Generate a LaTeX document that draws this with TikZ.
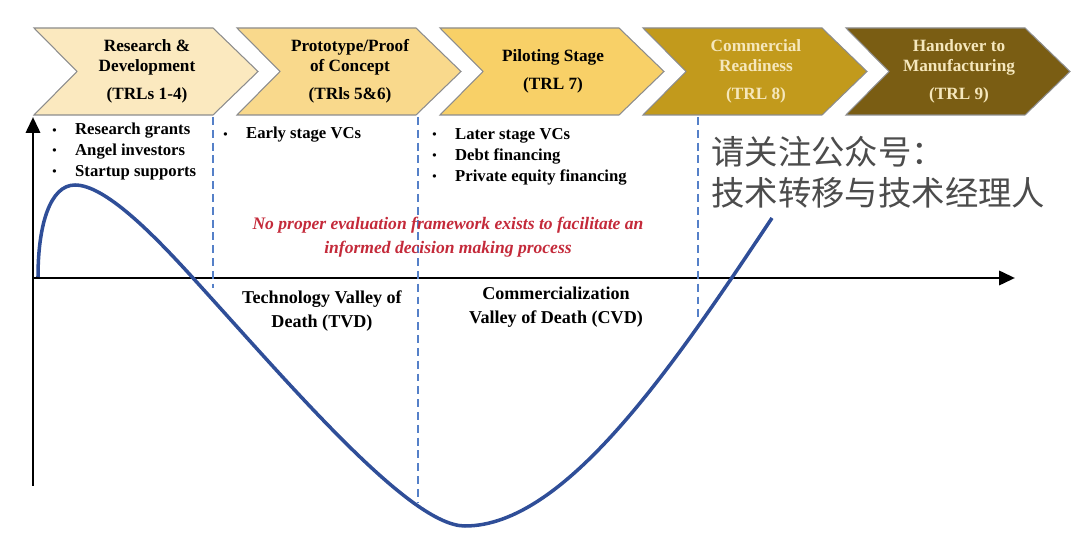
\documentclass[tikz,border=0pt]{standalone}
\usepackage{fontspec}
\setmainfont{Liberation Serif}
\newfontfamily\cjk{Noto Sans CJK SC}
\usetikzlibrary{arrows.meta}
\definecolor{stA}{HTML}{FBE9BF}
\definecolor{stB}{HTML}{F9D98C}
\definecolor{stC}{HTML}{F8D067}
\definecolor{stD}{HTML}{C29A1C}
\definecolor{stE}{HTML}{7A5D13}
\definecolor{paleTxt}{HTML}{F5E7BC}
\definecolor{curveBlue}{HTML}{2F4E98}
\definecolor{dashBlue}{HTML}{5580C8}
\definecolor{noteRed}{HTML}{C42A3A}
\newcommand{\bul}{\makebox[13pt][l]{\raisebox{0.5pt}{\scriptsize\textbullet}}}
\begin{document}
\begin{tikzpicture}[x=0.02cm,y=-0.02cm,
  stage/.style={draw=black!45,line width=0.6pt},
  stagetext/.style={font=\fontsize{9.8}{11.3}\selectfont\bfseries,align=center,inner sep=0pt},
  fundlist/.style={font=\fontsize{9.5}{11.9}\selectfont\bfseries,align=left,anchor=north west,inner sep=0pt},
  vline/.style={dashBlue,line width=0.9pt,dash pattern=on 4.5pt off 2.8pt},
  axisline/.style={line width=1.7pt,-{Triangle[length=9pt,width=8pt]}},
  valleycurve/.style={curveBlue,line width=2pt},
  vlabel/.style={font=\fontsize{10.3}{13.6}\selectfont\bfseries,align=center,inner sep=0pt},
  note/.style={font=\fontsize{10}{13.6}\selectfont\bfseries\itshape,text=noteRed,align=center,inner sep=0pt}]
\useasboundingbox (0,0) rectangle (1080,533);
% stages
\foreach \i/\fc/\tc/\txt in {1/stA/black/{Research \&\\Development\\[4.5pt](TRLs 1-4)},
    2/stB/black/{Prototype/Proof\\of Concept\\[4.5pt](TRls 5\&6)},
    3/stC/black/{Piloting Stage\\[4.5pt](TRL 7)},
    4/stD/paleTxt/{Commercial\\Readiness\\[4.5pt](TRL 8)},
    5/stE/paleTxt/{Handover to\\Manufacturing\\[4.5pt](TRL 9)}}{
  \pgfmathsetmacro\L{34+203*(\i-1)}
  \draw[stage,fill=\fc] (\L,28) -- (\L+179,28) -- (\L+224,71.5) -- (\L+179,115) -- (\L,115) -- (\L+43,71.5) -- cycle;
  \node[stagetext,text=\tc] (s\i) at (\L+113,71.5) {\txt};
}
% axes
\coordinate (O) at (33,278);
\coordinate (ytop) at (33,117);
\coordinate (ybot) at (33,486);
\coordinate (xend) at (1015,278);
\draw[axisline] (ybot) -- (ytop);
\draw[axisline] (O) -- (xend);
% phase borders
\draw[vline] (213,117) -- (213,288);
\draw[vline] (418,117) -- (418,502);
\draw[vline] (698,117) -- (698,322);
% funding
\node[fundlist] (f1) at (52,123) {\bul Research grants\\\bul Angel investors\\\bul Startup supports};
\node[fundlist] (f2) at (223,127) {\bul Early stage VCs};
\node[fundlist] (f3) at (432,128) {\bul Later stage VCs\\\bul Debt financing\\\bul Private equity financing};
% curve
\draw[valleycurve] (38,277) .. controls (38,225) and (50,185) .. (75,185)
  .. controls (105,185) and (153,234) .. (193,278)
  .. controls (293,388) and (410,526) .. (465,526)
  .. controls (565,526) and (672,368) .. (772,218);
\node[note] (gap) at (448,237) {No proper evaluation framework exists to facilitate an\\informed decision making process};
\node[vlabel] (tvd) at (322,311) {Technology Valley of\\Death (TVD)};
\node[vlabel] (cvd) at (556,307) {Commercialization\\Valley of Death (CVD)};
\node[font=\fontsize{19}{23.5}\selectfont\cjk,text=black!70,align=left,anchor=west,inner sep=0pt] (wm) at (711,172) {请关注公众号：\\技术转移与技术经理人};
\end{tikzpicture}
\end{document}
